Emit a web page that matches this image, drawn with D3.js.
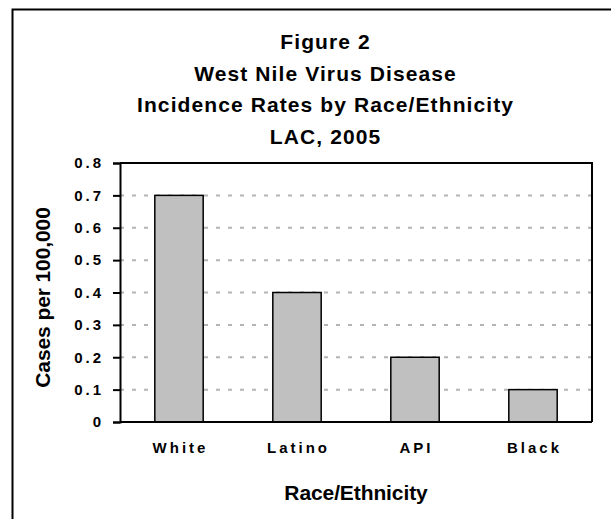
<!DOCTYPE html>
<html>
<head>
<meta charset="utf-8">
<script src="https://cdn.jsdelivr.net/npm/d3@7"></script>
<style>
  html, body { margin: 0; padding: 0; background: #fff; }
  svg { display: block; font-family: "Liberation Sans", Arial, sans-serif; }
</style>
</head>
<body>
<svg id="chart" width="611" height="519"></svg>
<script>
// Incidence rates of West Nile Virus disease by race/ethnicity, LAC 2005
const categories = ["White", "Latino", "API", "Black"];
const rates = [0.7, 0.4, 0.2, 0.1];
const yTicks = [0, 0.1, 0.2, 0.3, 0.4, 0.5, 0.6, 0.7, 0.8];
const yTickLabels = ["0", "0.1", "0.2", "0.3", "0.4", "0.5", "0.6", "0.7", "0.8"];
const titleLines = ["Figure 2", "West Nile Virus Disease", "Incidence Rates by Race/Ethnicity", "LAC, 2005"];
const xTitle = "Race/Ethnicity";
const yTitle = "Cases per 100,000";

const svg = d3.select("#chart");

// outer frame (runs past the window on the right and bottom)
svg.append("rect")
  .attr("x", 12.5).attr("y", 9.5)
  .attr("width", 640).attr("height", 540)
  .attr("fill", "#fff").attr("stroke", "#000").attr("stroke-width", 2);

const plot = { left: 120, right: 592, top: 163, bottom: 422 };

const x = d3.scaleBand()
  .domain(categories)
  .range([plot.left, plot.right])
  .paddingInner(0.59)
  .paddingOuter(0.295);

const y = d3.scaleLinear()
  .domain([0, 0.8])
  .range([plot.bottom, plot.top]);

// title, centred on the chart frame
const titleY = [49, 80.5, 112, 144];
svg.append("g").selectAll("text")
  .data(titleLines)
  .join("text")
  .attr("x", 325)
  .attr("y", (d, i) => titleY[i])
  .attr("text-anchor", "middle")
  .attr("font-size", 21)
  .attr("font-weight", "bold")
  .attr("letter-spacing", 1.1)
  .attr("dx", 0.55)
  .text(d => d);

// dashed gridlines
svg.append("g")
  .selectAll("line")
  .data(yTicks.filter(t => t > 0))
  .join("line")
  .attr("x1", plot.left).attr("x2", plot.right)
  .attr("y1", d => y(d)).attr("y2", d => y(d))
  .attr("stroke", "#b4b4b4")
  .attr("stroke-width", 2)
  .attr("stroke-dasharray", "4,8");

// plot frame: top and right edges
svg.append("path")
  .attr("d", `M${plot.left},${plot.top}H${plot.right}V${plot.bottom}`)
  .attr("fill", "none").attr("stroke", "#000").attr("stroke-width", 2);

// bars
svg.append("g")
  .selectAll("rect")
  .data(rates)
  .join("rect")
  .attr("x", (d, i) => x(categories[i]))
  .attr("y", d => y(d))
  .attr("width", x.bandwidth())
  .attr("height", d => y(0) - y(d))
  .attr("fill", "#c0c0c0")
  .attr("stroke", "#000")
  .attr("stroke-width", 1.5);

// y axis
const yAxis = svg.append("g")
  .attr("transform", `translate(${plot.left},0)`)
  .call(d3.axisLeft(y)
    .tickValues(yTicks)
    .tickFormat((d, i) => yTickLabels[i])
    .tickSize(7)
    .tickPadding(12));
yAxis.select(".domain").attr("stroke-width", 2);
yAxis.selectAll(".tick line").attr("stroke-width", 2);
yAxis.selectAll(".tick text")
  .attr("font-size", 15)
  .attr("font-weight", "bold")
  .attr("font-family", "Liberation Sans, Arial, sans-serif")
  .attr("letter-spacing", 3)
  .attr("dx", 3);

// x axis
const xAxis = svg.append("g")
  .attr("transform", `translate(0,${plot.bottom})`)
  .call(d3.axisBottom(x).tickSize(0).tickPadding(20));
xAxis.select(".domain").attr("stroke-width", 2).attr("d", `M${plot.left},0H${plot.right}`);
xAxis.selectAll(".tick text")
  .attr("font-size", 15)
  .attr("font-weight", "bold")
  .attr("font-family", "Liberation Sans, Arial, sans-serif")
  .attr("letter-spacing", 3)
  .attr("dx", 1.5);

// axis titles
svg.append("text")
  .attr("x", (plot.left + plot.right) / 2)
  .attr("y", 500)
  .attr("text-anchor", "middle")
  .attr("font-size", 21)
  .attr("font-weight", "bold")
  .attr("letter-spacing", -0.1)
  .text(xTitle);

svg.append("text")
  .attr("transform", `translate(50,${(plot.top + plot.bottom) / 2 + 5}) rotate(-90)`)
  .attr("text-anchor", "middle")
  .attr("font-size", 21)
  .attr("font-weight", "bold")
  .attr("letter-spacing", -0.1)
  .text(yTitle);
</script>
</body>
</html>
